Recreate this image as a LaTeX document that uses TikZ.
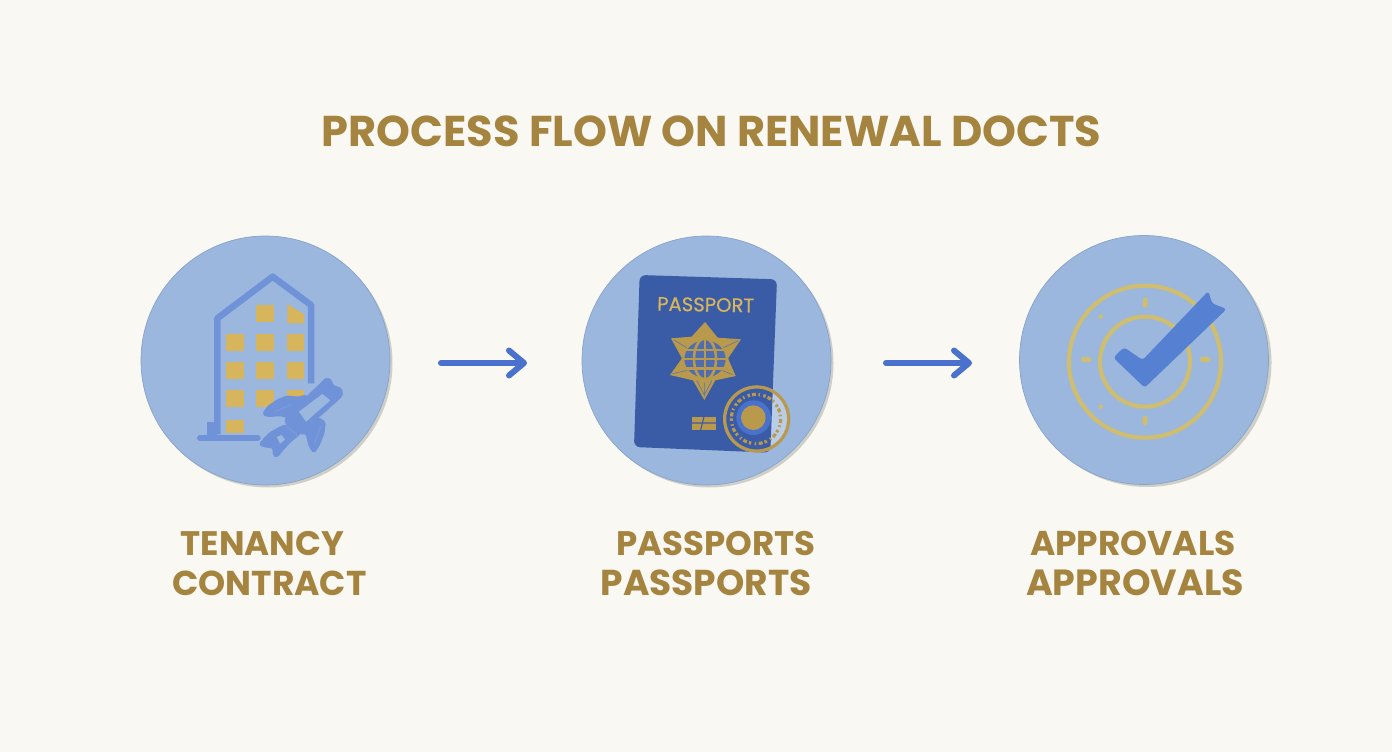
\documentclass[tikz,border=0pt]{standalone}
\usepackage{fontspec}
\setmainfont{Poppins}
\newfontfamily\passfont[FakeBold=0.5]{Poppins}
\usetikzlibrary{arrows.meta}
\definecolor{bg}{HTML}{FAF8F3}
\definecolor{disc}{HTML}{9BB7DE}
\definecolor{discedge}{HTML}{86A3CC}
\definecolor{shade}{HTML}{CFCFC8}
\definecolor{gold}{HTML}{A5843F}
\definecolor{win}{HTML}{D6B55C}
\definecolor{pale}{HTML}{CFBD70}
\definecolor{line}{HTML}{6F92D8}
\definecolor{arrowblue}{HTML}{4A72CC}
\definecolor{book}{HTML}{3A5BA6}
\definecolor{tick}{HTML}{5680D2}
\definecolor{stampgold}{HTML}{B9994C}
\tikzset{
 disc/.style={circle,fill=disc,draw=discedge,line width=.7pt,minimum size=249pt,inner sep=0pt},
 shadedisc/.style={circle,fill=shade,minimum size=249pt,inner sep=0pt},
 titletext/.style={text=gold,font=\fontsize{43.1}{43.1}\selectfont\bfseries,anchor=base,inner sep=0pt},
 labeltext/.style={text=gold,font=\fontsize{#1}{#1}\selectfont\bfseries,anchor=base,inner sep=0pt},
 flow/.style={arrowblue,line width=6pt,line cap=round,-{Straight Barb[length=15pt,width=25pt,line cap=round,line join=round]}},
 windowbox/.style={fill=win,draw=none},
 rocketpart/.style={fill=line,draw=line,line width=2.2pt,line join=round,rounded corners=1.5pt},
 rocketglass/.style={fill=disc,draw=none},
 rocketcrease/.style={draw=disc!35!line,line width=.8pt},
 zoomed/.style={x=.33333pt,y=-.33333pt}
}
\begin{document}
\begin{tikzpicture}[x=1pt,y=-1pt]
\useasboundingbox (0,0) rectangle (1392,752);
\fill[bg] (0,0) rectangle (1392,752);
% title
\node[titletext] (title) at (711.5,146.5) {PROCESS FLOW ON RENEWAL DOCTS};
% discs
\node[shadedisc] (s1) at (268,363) {};
\node[shadedisc] (s2) at (709,363) {};
\node[shadedisc] (s3) at (1147,362.5) {};
\node[disc] (c1) at (265.5,360.5) {};
\node[disc] (c2) at (706.5,360.5) {};
\node[disc] (c3) at (1144,360) {};
% connectors
\coordinate (a1s) at (441,363);
\coordinate (a1e) at (527,363);
\coordinate (a2s) at (886,363);
\coordinate (a2e) at (972,363);
\draw[flow] (a1s) -- (a1e);
\draw[flow] (a2s) -- (a2e);
% building
\begin{scope}[shift={(130,225)},zoomed]
 \foreach \cx/\cy in {405/265,315/352,405/352,497/352,315/437,405/437,497/437,315/520,405/520,497/520}
   \fill[windowbox] (\cx-26,\cy-26) rectangle (\cx+26,\cy+26);
 \fill[windowbox] (472,237) -- (522,268) -- (522,295) -- (472,295) -- cycle;
 \fill[windowbox] (289,585) rectangle (341,625);
 \draw[line,line width=6.5pt,line join=round] (262,628) -- (262,280) -- (428,155) -- (543,240) -- (543,475);
 \draw[line,line width=6pt,line cap=round] (210,638) -- (383,638);
 \fill[line] (230,590) rectangle (262,638);
\end{scope}
% rocket
\begin{scope}[shift={(250,365)},zoomed]
 \path[rocketpart] (40,147) -- (55,125) -- (85,105) -- (110,95) -- (145,98) -- (170,92) -- (135,135) -- (110,155) -- (90,150) -- (55,153) -- cycle;
 \path[rocketpart] (150,205) -- (205,160) -- (224,172) -- (220,205) -- (205,242) -- (191,262) -- (178,240) -- (170,205) -- cycle;
 \path[rocketpart] (105,165) -- (140,130) -- (165,190) -- (135,215) -- cycle;
 \path[rocketpart] (120,180) -- (150,205) -- (125,225) -- (105,245) -- (80,275) -- (72,270) -- (70,247) -- (40,243) -- (30,238) -- (45,220) -- (60,205) -- (95,185) -- cycle;
 \path[rocketpart] (130,135) -- (205,65) -- (230,40) -- (243,47) -- (247,62) -- (273,72) -- (276,90) -- (258,108) -- (165,190) -- cycle;
 \fill[rocketglass] (147,140) -- (217,87) -- (241,106) -- (168,170) -- cycle;
 \fill[rocketglass] (80,216) -- (95,210) -- (105,224) -- (90,236) -- cycle;
 \path[rocketcrease] (75,140) -- (125,118);
 \path[rocketcrease] (212,185) -- (192,238);
 \path[rocketcrease] (112,185) -- (145,215);
\end{scope}
% passport
\begin{scope}[shift={(570,225)},zoomed]
 \fill[book,rounded corners=6pt] (209,150) -- (621,163) -- (601,683) -- (192,666) -- cycle;
 \node[text=win,font=\passfont\fontsize{19.6}{19.6}\selectfont,rotate=-1,inner sep=0pt] (ptext) at (407,239) {PASSPORT};
 % star
 \fill[stampgold] (405,291) -- (443,338) -- (513,343) -- (474,400) -- (497,453) -- (436,466) -- (403,525) -- (369,466) -- (300,450) -- (336,400) -- (303,340) -- (365,335) -- cycle;
 \fill[book!80!disc] (405,402) ellipse [x radius=66,y radius=60];
 \begin{scope}[stampgold,line width=2.6pt]
  \draw (405,340) -- (405,465);
  \draw (405,402) ellipse [x radius=33,y radius=62];
  \draw (405,402) ellipse [x radius=66,y radius=60];
  \draw (345,375) -- (465,375);
  \draw (335,402) -- (475,402);
  \draw (345,430) -- (465,430);
 \end{scope}
 \draw[book!70!disc,line width=.6pt] (312,345) -- (350,368) (505,347) -- (460,368) (488,449) -- (456,436) (308,446) -- (352,436);
 \draw[book!70!disc,line width=.6pt] (403,515) -- (403,472) (380,466) -- (403,510) (426,466) -- (403,510);
 % chip
 \fill[stampgold] (365,575) rectangle (438,615);
 \draw[book,line width=1.1pt] (365,594) -- (438,594) (402,575) -- (392,615);
 % stamp
 \fill[disc!70!white] (560,582) circle [radius=100];
 \begin{scope}
  \clip (209,150) -- (621,163) -- (601,683) -- (192,666) -- cycle;
  \fill[book] (560,582) circle [radius=100];
 \end{scope}
 \draw[stampgold,line width=3.2pt] (560,582) circle [radius=96];
 \draw[stampgold,line width=3.2pt,dash pattern=on 4pt off 2.5pt on 1.5pt off 3.5pt on 2.5pt off 2pt] (558,582) circle [radius=74];
 \fill[arrowblue] (551,578) circle [radius=52];
 \fill[stampgold] (550,578) circle [radius=37];
\end{scope}
% approval
\begin{scope}[shift={(1010,225)},zoomed]
 \draw[pale,line width=4.2pt] (405,410) circle [radius=228];
 \draw[pale,line width=4.2pt] (405,410) circle [radius=135];
 \begin{scope}[fill=pale,rounded corners=1.5pt]
  \fill (398,218) rectangle (413,248);
  \fill (397,573) rectangle (412,601);
  \fill (213,396) rectangle (243,411);
  \fill (570,396) rectangle (601,411);
 \end{scope}
 \fill[pale] (272,275) circle [radius=7];
 \fill[pale] (272,545) circle [radius=7];
 \fill[tick,rounded corners=3pt] (310,398) -- (342,367) -- (398,405) -- (595,198) -- (606,235) -- (650,252) -- (404,488) -- cycle;
\end{scope}
% labels
\node[labeltext=34] (l1a) at (262.5,555) {TENANCY};
\node[labeltext=34.5] (l1b) at (269.5,595) {CONTRACT};
\node[labeltext=34] (l2a) at (716,555) {PASSPORTS};
\node[labeltext=36] (l2b) at (706,595) {PASSPORTS};
\node[labeltext=34.4] (l3a) at (1133,555) {APPROVALS};
\node[labeltext=36.4] (l3b) at (1135,595) {APPROVALS};
\end{tikzpicture}
\end{document}
